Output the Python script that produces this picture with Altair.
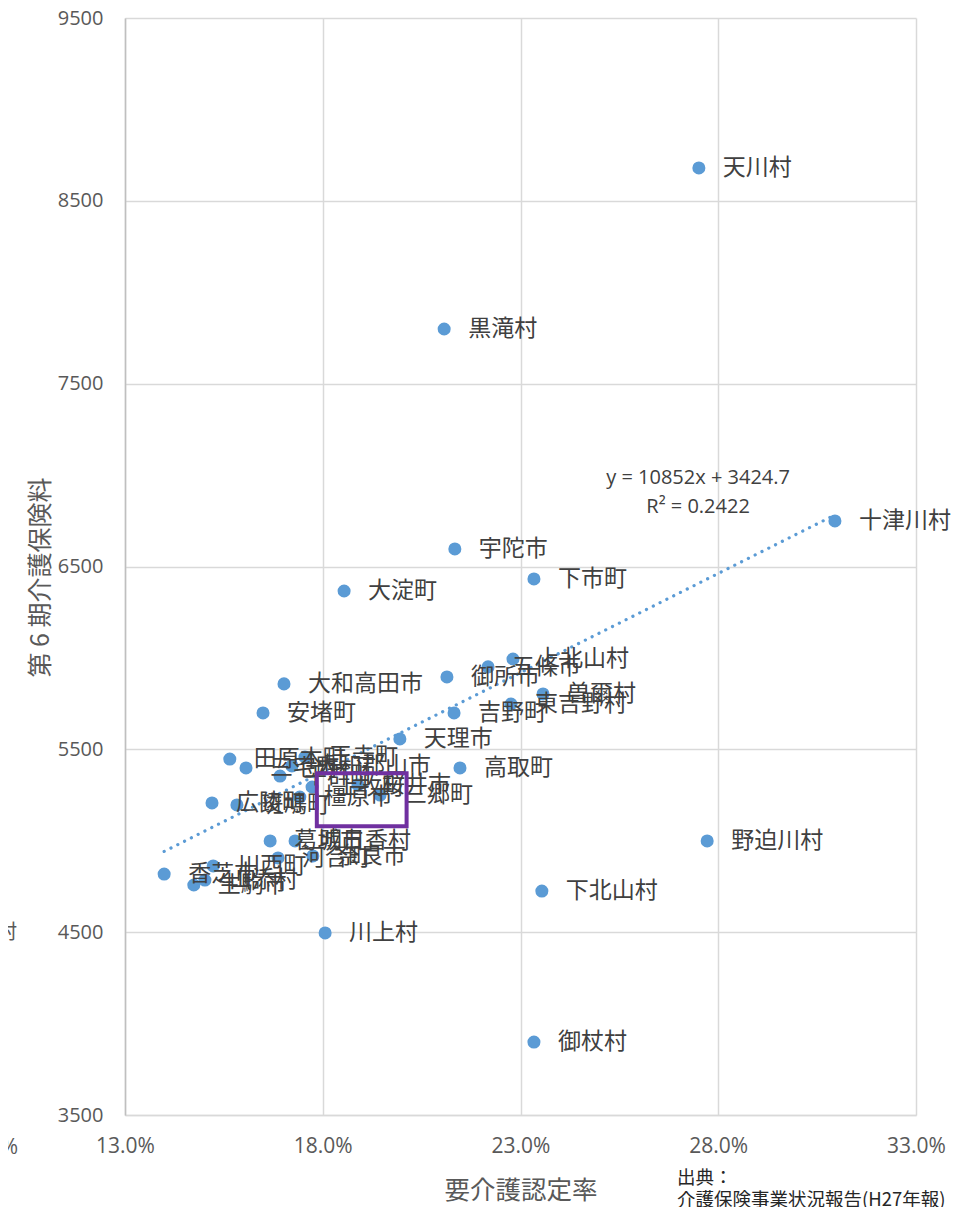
import altair as alt
import pandas as pd

# ---- data ----
names = [
    "天川村", "黒滝村", "十津川村", "宇陀市", "下市町", "大淀町", "上北山村", "五條市",
    "御所市", "大和高田市", "安堵町", "吉野町", "東吉野村", "曽爾村", "天理市", "高取町",
    "野迫川村", "下北山村", "川上村", "御杖村",
    "田原本町", "三宅町", "平群町", "大和郡山市", "王寺町", "上牧町", "桜井市", "広陵町",
    "斑鳩町", "橿原市", "三郷町", "葛城市", "明日香村", "河合町", "奈良市", "川西町",
    "香芝市", "生駒市", "山添村",
]
rates_pct = [
    27.51, 21.07, 30.95, 21.34, 23.34, 18.54, 22.81, 22.18,
    21.14, 17.02, 16.49, 21.32, 22.76, 23.57, 19.95, 21.47,
    27.72, 23.54, 18.06, 23.34,
    15.65, 16.06, 16.92, 17.22, 17.55, 17.73, 18.89, 15.20,
    15.83, 17.42, 19.45, 16.67, 17.30, 16.87, 17.75, 15.23,
    13.99, 14.74, 15.02,
]
fees = [
    8680, 7799, 6749, 6596, 6432, 6366, 5994, 5951,
    5896, 5858, 5699, 5699, 5748, 5803, 5557, 5398,
    4999, 4725, 4496, 3899,
    5447, 5398, 5354, 5409, 5458, 5294, 5305, 5207,
    5196, 5239, 5250, 4999, 4999, 4906, 4917, 4862,
    4818, 4758, 4785,
]

x_ticks = [0.13, 0.18, 0.23, 0.28, 0.33]
y_ticks = [3500, 4500, 5500, 6500, 7500, 8500, 9500]

eq_lines = ["y = 10852x + 3424.7", "R² = 0.2422"]
eq_rate = [0.2749, 0.2749]
eq_fee = [6984, 6826]

box_x1, box_x2 = [0.1785], [0.2012]
box_y1, box_y2 = [5079], [5369]

source_lines = ["出典：", "介護保険事業状況報告(H27年報)"]
fragments = ["村", "%"]

df = pd.DataFrame({"name": names, "rate": [r / 100 for r in rates_pct], "fee": fees})
eq_df = pd.DataFrame({"t": eq_lines, "rate": eq_rate, "fee": eq_fee})
box_df = pd.DataFrame({"rate": box_x1, "rate2": box_x2, "fee": box_y1, "fee2": box_y2})

x_scale = alt.Scale(domain=[0.13, 0.33], nice=False, zero=False)
y_scale = alt.Scale(domain=[3500, 9500], nice=False, zero=False)

JP = "Noto Sans CJK JP"
X_TITLE = "要介護認定率"
Y_TITLE = "第 6 期介護保険料"

x_axis = alt.Axis(
    values=x_ticks, format=".1%", title=X_TITLE,
    labelFont="Open Sans", labelFontSize=21, labelColor="#595959", labelPadding=20,
    labelFlush=False, labelOverlap=False,
    ticks=False, grid=True, gridColor="#D9D9D9", gridWidth=1.5,
    domainColor="#D9D9D9", domainWidth=1.5,
    titleFont=JP, titleFontSize=25.5, titleColor="#595959", titleFontWeight="normal",
    titleY=75, titleBaseline="middle",
)
y_axis = alt.Axis(
    values=y_ticks, format="d", title=Y_TITLE,
    labelFont="Open Sans", labelFontSize=20, labelColor="#595959", labelPadding=22,
    labelFlush=False, labelOverlap=False,
    ticks=False, grid=True, gridColor="#D9D9D9", gridWidth=1.5,
    domainColor="#BFBFBF", domainWidth=1.5,
    titleFont=JP, titleFontSize=25, titleColor="#595959", titleFontWeight="normal",
    titleX=-85, titleY=559, titleAngle=270, titleAlign="center", titleBaseline="middle",
)

X = alt.X("rate:Q", scale=x_scale, axis=x_axis, title=X_TITLE)
Y = alt.Y("fee:Q", scale=y_scale, axis=y_axis, title=Y_TITLE)

base = alt.Chart(df)

points = base.mark_circle(size=170, color="#5B9BD5", opacity=1).encode(x=X, y=Y)

trend = base.transform_regression("rate", "fee", method="linear").mark_line(
    color="#5B9BD5", strokeWidth=3.2, strokeDash=[0.1, 7.5], strokeCap="round"
).encode(x=X, y=Y)

labels = base.mark_text(
    align="left", baseline="middle", dx=24, font=JP, fontSize=23, color="#404040"
).encode(x=X, y=Y, text="name:N")

eq = alt.Chart(eq_df).mark_text(
    align="center", baseline="middle", font="Open Sans", fontSize=20, color="#404040"
).encode(x=X, y=Y, text="t:N")

box = alt.Chart(box_df).mark_rect(
    fillOpacity=0, stroke="#7030A0", strokeWidth=4
).encode(x=X, x2="rate2:Q", y=Y, y2="fee2:Q")


def fixed_text(txt, px, py, align, font, size, color):
    return alt.Chart(pd.DataFrame({"t": [txt]})).mark_text(
        align=align, baseline="middle", font=font, fontSize=size, color=color
    ).encode(x=alt.value(px), y=alt.value(py), text="t:N")


src1 = fixed_text(source_lines[0], 552, 1160, "left", JP, 18.5, "#262626")
src2 = fixed_text(source_lines[1], 552, 1182, "left", JP, 18.5, "#262626")
frag1 = fixed_text(fragments[0], -108, 915, "right", JP, 20, "#595959")
frag2 = fixed_text(fragments[1], -107, 1130, "right", "Open Sans", 21, "#595959")

chart = alt.layer(
    points, trend, labels, eq, box, src1, src2, frag1, frag2
).properties(
    width=791,
    height=1097,
    autosize=alt.AutoSizeParams(type="none"),
    padding={"left": 117, "top": 10, "right": 45, "bottom": 100},
    background="white",
).configure_view(stroke=None)

chart.save("out.html", embed_options={"renderer": "svg", "actions": False})
